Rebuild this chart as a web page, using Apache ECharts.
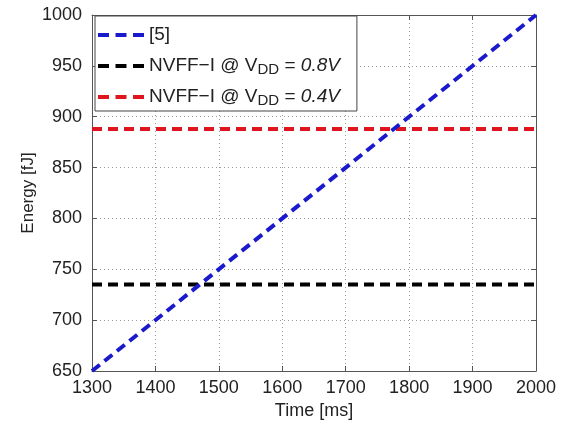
<!DOCTYPE html>
<html>
<head>
<meta charset="utf-8">
<script src="https://cdn.jsdelivr.net/npm/echarts@6/dist/echarts.min.js"></script>
<style>
    html, body { margin: 0; padding: 0; background: #fff; }
    #chart { width: 571px; height: 426px; }
</style>
</head>
<body>
<div id="chart"></div>
<script>
// 数据
var timeRange = [1300, 2000];
var refEnergy = [650, 1000];          // [5]
var nvff08 = 735;                     // NVFF-I @ VDD = 0.8V
var nvff04 = 888;                     // NVFF-I @ VDD = 0.4V
var seriesNames = ['[5]', 'NVFF-I 0.8', 'NVFF-I 0.4'];
var seriesColors = ['#1a1acc', '#000000', '#e0141e'];

var font = 'Liberation Sans, Arial, sans-serif';
var dashIcon = 'path://M0,0h11v4h-11z M17.5,0h11v4h-11z M35,0h11v4h-11z';

var myChart = echarts.init(document.getElementById('chart'));

function flatLine(v) {
    return [[timeRange[0], v], [timeRange[1], v]];
}

// 不要千分位
function plainNum(v) {
    return String(v);
}

var axisBase = {
    type: 'value',
    axisLine: { show: true, lineStyle: { color: '#555', width: 1 } },
    axisTick: { show: true, inside: true, length: 5, lineStyle: { color: '#555' } },
    axisLabel: { color: '#222', fontSize: 18, fontFamily: font },
    splitLine: { show: false }
};

var option = {
    backgroundColor: '#fff',
    animation: false,
    grid: { left: 92, right: 35, top: 15, bottom: 55 },
    legend: {
        orient: 'vertical',
        left: 95,
        top: 16,
        padding: [8, 17, 3, 3],
        itemGap: 7,
        itemWidth: 46,
        itemHeight: 4,
        backgroundColor: '#fff',
        borderColor: '#444',
        borderWidth: 1,
        borderRadius: 0,
        data: seriesNames.map(function (n) { return { name: n, icon: dashIcon }; }),
        formatter: function (name) {
            if (name === seriesNames[1]) {
                return 'NVFF\u2212I @ V{sub|DD} = {it|0.8V}';
            }
            if (name === seriesNames[2]) {
                return 'NVFF\u2212I @ V{sub|DD} = {it|0.4V}';
            }
            return name;
        },
        textStyle: {
            color: '#222',
            fontSize: 19,
            fontFamily: font,
            lineHeight: 22,
            rich: {
                sub: { fontSize: 15, fontFamily: font, color: '#222', lineHeight: 22, verticalAlign: 'bottom', padding: [9, 0, 0, 0] },
                it: { fontSize: 19, fontFamily: font, color: '#222', fontStyle: 'italic' }
            }
        }
    },
    xAxis: [
        Object.assign({}, axisBase, {
            min: timeRange[0],
            max: timeRange[1],
            interval: 100,
            name: 'Time [ms]',
            nameLocation: 'middle',
            nameGap: 30,
            nameTextStyle: { color: '#222', fontSize: 18, fontFamily: font },
            axisLabel: { color: '#222', fontSize: 18, fontFamily: font, margin: 8, formatter: plainNum },
            splitLine: { show: true, lineStyle: { color: '#9a9a9a', type: [1, 3], width: 1 } }
        }),
        Object.assign({}, axisBase, {
            position: 'top',
            min: timeRange[0],
            max: timeRange[1],
            interval: 100,
            axisLabel: { show: false }
        })
    ],
    yAxis: [
        Object.assign({}, axisBase, {
            min: refEnergy[0],
            max: refEnergy[1],
            interval: 50,
            name: 'Energy [fJ]',
            nameLocation: 'middle',
            nameGap: 55,
            nameMoveOverlap: false,
            nameTextStyle: { color: '#222', fontSize: 17, fontFamily: font },
            axisLabel: { color: '#222', fontSize: 18, fontFamily: font, margin: 10, formatter: plainNum },
            splitLine: { show: true, lineStyle: { color: '#9a9a9a', type: [1, 3], width: 1 } }
        }),
        Object.assign({}, axisBase, {
            position: 'right',
            min: refEnergy[0],
            max: refEnergy[1],
            interval: 50,
            axisLabel: { show: false }
        })
    ],
    series: [
        {
            name: seriesNames[0],
            type: 'line',
            symbol: 'none',
            color: seriesColors[0],
            lineStyle: { color: seriesColors[0], width: 4, type: [10, 6] },
            data: [[timeRange[0], refEnergy[0]], [timeRange[1], refEnergy[1]]],
            z: 5
        },
        {
            name: seriesNames[1],
            type: 'line',
            symbol: 'none',
            color: seriesColors[1],
            lineStyle: { color: seriesColors[1], width: 4, type: [10, 6] },
            data: flatLine(nvff08)
        },
        {
            name: seriesNames[2],
            type: 'line',
            symbol: 'none',
            color: seriesColors[2],
            lineStyle: { color: seriesColors[2], width: 4, type: [10, 6] },
            data: flatLine(nvff04)
        }
    ]
};

myChart.setOption(option);
</script>
</body>
</html>
